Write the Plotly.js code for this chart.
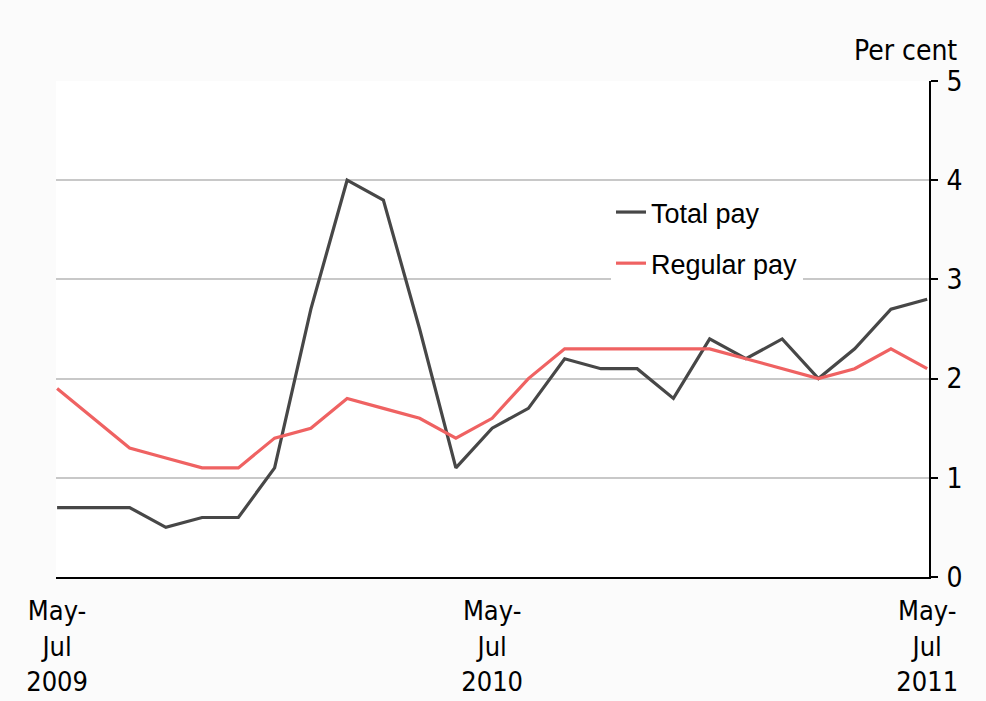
<!DOCTYPE html>
<html>
<head>
<meta charset="utf-8">
<script src="https://cdn.plot.ly/plotly-3.0.1.min.js"></script>
<style>
  html, body { margin: 0; padding: 0; background: #fbfbfb; }
  #chart { width: 986px; height: 701px; }
</style>
</head>
<body>
<div id="chart"></div>
<script>
// Rolling three-month periods
const periods = [
  "May-Jul 2009", "Jun-Aug 2009", "Jul-Sep 2009", "Aug-Oct 2009", "Sep-Nov 2009",
  "Oct-Dec 2009", "Nov-Jan 2010", "Dec-Feb 2010", "Jan-Mar 2010", "Feb-Apr 2010",
  "Mar-May 2010", "Apr-Jun 2010", "May-Jul 2010", "Jun-Aug 2010", "Jul-Sep 2010",
  "Aug-Oct 2010", "Sep-Nov 2010", "Oct-Dec 2010", "Nov-Jan 2011", "Dec-Feb 2011",
  "Jan-Mar 2011", "Feb-Apr 2011", "Mar-May 2011", "Apr-Jun 2011", "May-Jul 2011"
];

// Per cent
const totalPay = [0.7, 0.7, 0.7, 0.5, 0.6, 0.6, 1.1, 2.7, 4.0, 3.8, 2.5, 1.1, 1.5,
                  1.7, 2.2, 2.1, 2.1, 1.8, 2.4, 2.2, 2.4, 2.0, 2.3, 2.7, 2.8];
const regularPay = [1.9, 1.6, 1.3, 1.2, 1.1, 1.1, 1.4, 1.5, 1.8, 1.7, 1.6, 1.4, 1.6,
                    2.0, 2.3, 2.3, 2.3, 2.3, 2.3, 2.2, 2.1, 2.0, 2.1, 2.3, 2.1];

const seriesNames = ["Total pay", "Regular pay"];

const xTickVals = ["May-Jul 2009", "May-Jul 2010", "May-Jul 2011"];
const xTickText = ["May-<br>Jul<br>2009", "May-<br>Jul<br>2010", "May-<br>Jul<br>2011"];
const yTickVals = [0, 1, 2, 3, 4, 5];

const fam = "'Liberation Sans Narrow', 'Arial Narrow', 'DejaVu Sans Condensed', sans-serif";
const xTickFont = { family: fam, size: 27, color: "#000000" };
const yTickFont = { family: fam, size: 28, color: "#000000" };

const traces = [
  {
    x: periods, y: totalPay, name: seriesNames[0], type: "scatter", mode: "lines",
    line: { color: "#474747", width: 3.2 }, legendgroup: "a"
  },
  {
    x: periods, y: regularPay, name: seriesNames[1], type: "scatter", mode: "lines",
    line: { color: "#ef6262", width: 3.2 }, legendgroup: "b"
  }
];

const layout = {
  width: 986, height: 701,
  margin: { l: 56, r: 57, t: 81, b: 124 },
  paper_bgcolor: "#fbfbfb",
  plot_bgcolor: "#ffffff",
  showlegend: true,
  legend: {
    x: (611 - 56) / 873, xanchor: "left",
    y: (577 - 188) / 496, yanchor: "top",
    bgcolor: "#ffffff",
    borderwidth: 0,
    traceorder: "grouped",
    tracegroupgap: 13,
    font: { family: "'Liberation Sans', Arial, sans-serif", size: 27, color: "#000000" }
  },
  xaxis: {
    type: "category",
    categoryorder: "array",
    categoryarray: periods,
    range: [-0.03, 24.05],
    tickmode: "array",
    tickvals: xTickVals,
    ticktext: xTickText,
    ticks: "",
    ticklabelstandoff: 9,
    showgrid: false,
    zeroline: false,
    showline: true,
    linecolor: "#000000",
    linewidth: 2,
    tickfont: xTickFont,
    fixedrange: true
  },
  yaxis: {
    side: "right",
    range: [0, 5],
    tickmode: "array",
    tickvals: yTickVals,
    ticks: "outside",
    ticklen: 7,
    tickwidth: 2,
    tickcolor: "#000000",
    ticklabelstandoff: 3,
    showline: true,
    linecolor: "#000000",
    linewidth: 2,
    showgrid: true,
    gridcolor: "#c8c8c8",
    gridwidth: 2,
    zeroline: false,
    tickfont: yTickFont,
    fixedrange: true
  },
  annotations: [
    {
      text: "Per cent",
      xref: "paper", yref: "paper",
      x: (959 - 56) / 873, xanchor: "right",
      y: (577 - 50) / 496, yanchor: "middle",
      showarrow: false,
      font: yTickFont
    }
  ]
};

Plotly.newPlot("chart", traces, layout, { displayModeBar: false, staticPlot: true });
</script>
</body>
</html>
